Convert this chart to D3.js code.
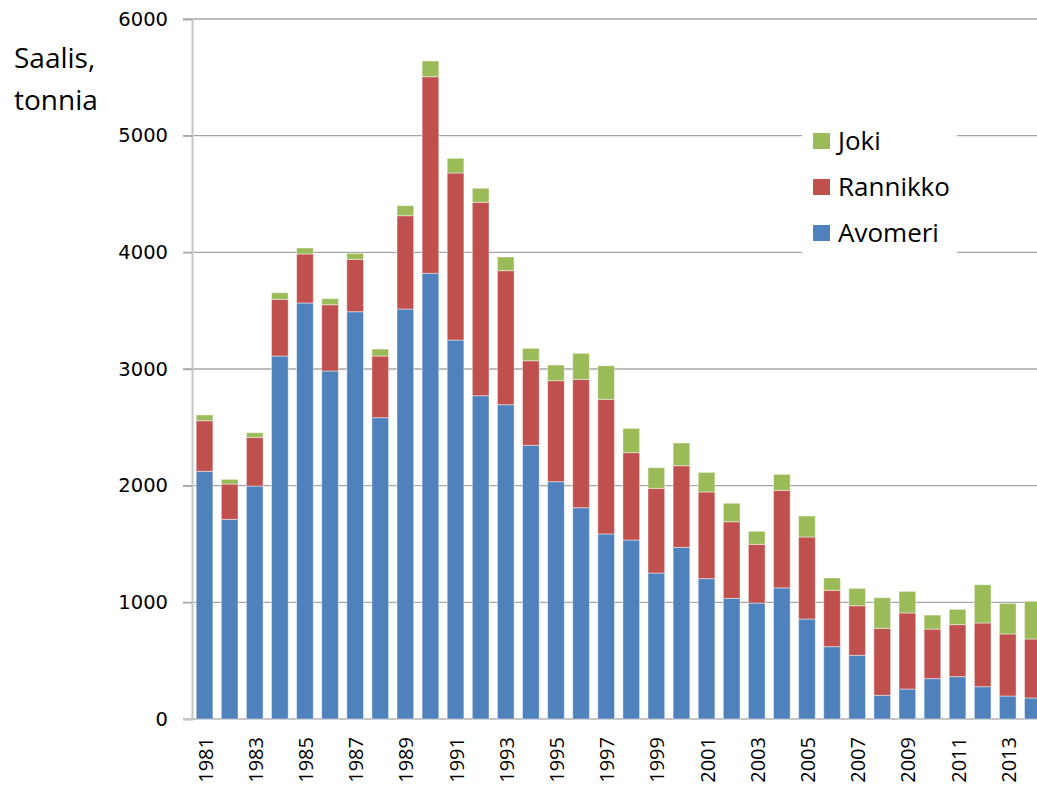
<!DOCTYPE html>
<html>
<head>
<meta charset="utf-8">
<script src="https://cdn.jsdelivr.net/npm/d3@7"></script>
<style>
  body { margin: 0; background: #fff; overflow: hidden; }
  text { font-family: "Open Sans", sans-serif; fill: #000; }
</style>
</head>
<body>
<div id="chart"></div>
<script>
// catch per year, tonnes
var years = d3.range(1981, 2015);
var avomeri = [2123, 1711, 1997, 3111, 3566, 2983, 3491, 2583, 3514, 3820,
               3248, 2771, 2694, 2346, 2034, 1811, 1586, 1534, 1251, 1471,
               1203, 1034, 994, 1124, 857, 620, 546, 203, 257, 346,
               363, 277, 197, 180];
var rannikko = [434, 303, 417, 486, 420, 568, 449, 528, 800, 1685,
                1432, 1658, 1149, 725, 866, 1100, 1154, 749, 726, 700,
                743, 657, 503, 836, 703, 483, 425, 574, 652, 425,
                446, 546, 532, 506];
var joki = [49, 40, 40, 57, 51, 52, 51, 60, 86, 135,
            126, 120, 117, 106, 134, 223, 288, 208, 177, 195,
            168, 158, 112, 137, 180, 106, 149, 263, 185, 120,
            131, 328, 262, 323];
var yTicks = [0, 1000, 2000, 3000, 4000, 5000, 6000];
var seriesNames = ["Avomeri", "Rannikko", "Joki"];
var colors = {Avomeri: "#4f81bd", Rannikko: "#c0504d", Joki: "#9bbb59"};

var width = 1037, height = 786;
var margin = {top: 19, left: 192, bottom: 67};

var rows = years.map(function(y, i) {
  return {year: y, Avomeri: avomeri[i], Rannikko: rannikko[i], Joki: joki[i]};
});

var svg = d3.select("#chart").append("svg")
  .attr("width", width)
  .attr("height", height);

var x = d3.scaleBand()
  .domain(years)
  .range([margin.left, margin.left + years.length * 25.1])
  .paddingInner(0.335)
  .paddingOuter(0.1675);

var y = d3.scaleLinear()
  .domain([0, 6000])
  .range([height - margin.bottom, margin.top]);

// gridlines
svg.append("g")
  .selectAll("line")
  .data(yTicks.slice(1))
  .enter().append("line")
  .attr("x1", margin.left - 9)
  .attr("x2", width)
  .attr("y1", function(d) { return y(d); })
  .attr("y2", function(d) { return y(d); })
  .attr("stroke", "#a6a6a6")
  .attr("stroke-width", 1.3);

// y axis
var yAxis = svg.append("g")
  .attr("transform", "translate(" + margin.left + ",0)")
  .call(d3.axisLeft(y).tickValues(yTicks).tickFormat(d3.format("d")).tickSize(9).tickPadding(15));
yAxis.select(".domain").attr("stroke", "#c6c6c6").attr("stroke-width", 2);
yAxis.selectAll(".tick line").attr("stroke", "#a6a6a6").attr("stroke-width", 1.3);
yAxis.selectAll(".tick text")
  .style("font-size", "19.5px")
  .style("font-family", "DejaVu Sans");

// bottom axis line
svg.append("line")
  .attr("x1", margin.left - 9)
  .attr("x2", width)
  .attr("y1", y(0))
  .attr("y2", y(0))
  .attr("stroke", "#c6c6c6")
  .attr("stroke-width", 2);

// stacked bars
var stack = d3.stack().keys(seriesNames);
var layers = stack(rows);

svg.append("g")
  .selectAll("g")
  .data(layers)
  .enter().append("g")
  .attr("fill", function(d) { return colors[d.key]; })
  .selectAll("rect")
  .data(function(d) { return d; })
  .enter().append("rect")
  .attr("x", function(d) { return x(d.data.year); })
  .attr("width", x.bandwidth())
  .attr("y", function(d) { return y(d[1]); })
  .attr("height", function(d) { return y(d[0]) - y(d[1]); })
  .attr("stroke", "rgba(255,255,255,0.45)")
  .attr("stroke-width", 1);

// x labels, every other year
svg.append("g")
  .selectAll("text")
  .data(years.filter(function(d) { return (d - 1981) % 2 === 0; }))
  .enter().append("text")
  .attr("transform", function(d) {
    return "translate(" + (x(d) + x.bandwidth() / 2 + 8) + "," + (y(0) + 18) + ") rotate(-90)";
  })
  .attr("text-anchor", "end")
  .style("font-size", "20px")
  .text(function(d) { return d; });

// y title
svg.append("text")
  .attr("x", 14).attr("y", 68)
  .style("font-size", "28px")
  .text("Saalis,");
svg.append("text")
  .attr("x", 14).attr("y", 110)
  .style("font-size", "28px")
  .text("tonnia");

// legend
var legend = svg.append("g");
legend.append("rect")
  .attr("x", 802).attr("y", 122)
  .attr("width", 155).attr("height", 140)
  .attr("fill", "#fff");

var legendItems = ["Joki", "Rannikko", "Avomeri"];
var item = legend.selectAll(".item")
  .data(legendItems)
  .enter().append("g")
  .attr("transform", function(d, i) { return "translate(813," + (133 + i * 46) + ")"; });
item.append("rect")
  .attr("width", 17).attr("height", 16)
  .attr("fill", function(d) { return colors[d]; });
item.append("text")
  .attr("x", 25).attr("y", 17)
  .style("font-size", "26px")
  .text(function(d) { return d; });
</script>
</body>
</html>
